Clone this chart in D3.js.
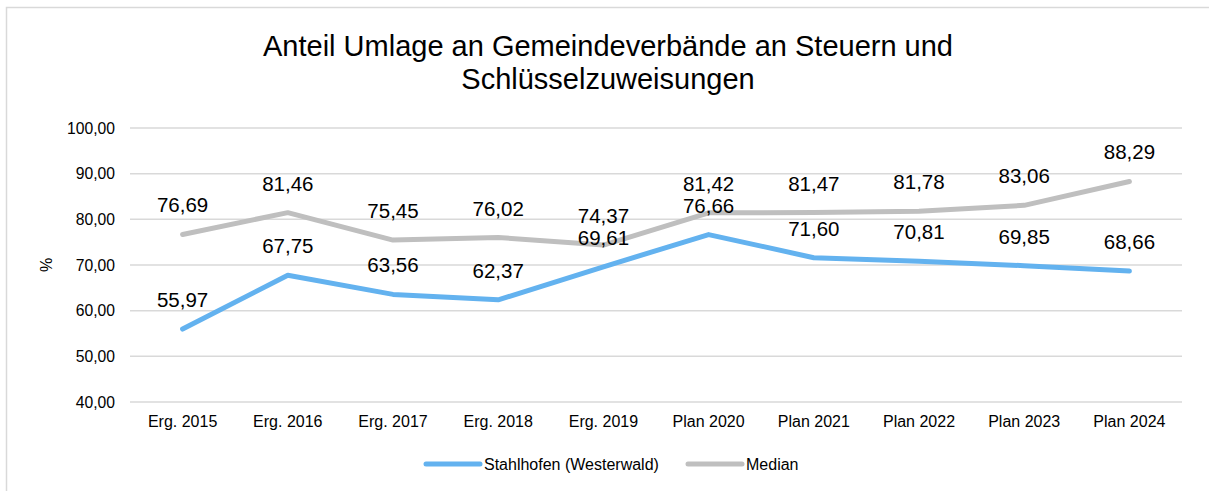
<!DOCTYPE html>
<html>
<head>
<meta charset="utf-8">
<script src="https://cdn.jsdelivr.net/npm/d3@7"></script>
<style>
  body { margin: 0; background: #fff; }
  svg { font-family: "Liberation Sans", Arial, sans-serif; }
</style>
</head>
<body>
<svg id="chart" width="1209" height="491"></svg>
<script>
  var categories = ['Erg. 2015', 'Erg. 2016', 'Erg. 2017', 'Erg. 2018', 'Erg. 2019',
                    'Plan 2020', 'Plan 2021', 'Plan 2022', 'Plan 2023', 'Plan 2024'];
  var stahlhofen = [55.97, 67.75, 63.56, 62.37, 69.61, 76.66, 71.60, 70.81, 69.85, 68.66];
  var median = [76.69, 81.46, 75.45, 76.02, 74.37, 81.42, 81.47, 81.78, 83.06, 88.29];
  var yTicks = [40, 50, 60, 70, 80, 90, 100];

  var series = [
    {name: 'Stahlhofen (Westerwald)', values: stahlhofen, color: '#63b2ef'},
    {name: 'Median', values: median, color: '#bfbfbf'}
  ];

  var fmt = (v) => d3.format('.2f')(v).replace('.', ',');

  var svg = d3.select('#chart');

  // outer frame
  svg.append('rect')
    .attr('x', 6.5).attr('y', 7.5)
    .attr('width', 1210).attr('height', 490)
    .attr('fill', 'none').attr('stroke', '#d9d9d9').attr('stroke-width', 1.5);

  // title
  var title = svg.append('text')
    .attr('text-anchor', 'middle')
    .attr('font-size', 29)
    .attr('fill', '#000');
  title.append('tspan').attr('x', 608).attr('y', 56)
    .text('Anteil Umlage an Gemeindeverbände an Steuern und');
  title.append('tspan').attr('x', 608).attr('y', 89)
    .text('Schlüsselzuweisungen');

  var x = d3.scaleBand().domain(categories).range([130, 1182]);
  var y = d3.scaleLinear().domain([40, 100]).range([402, 128]);

  // grid
  svg.append('g').selectAll('line').data(yTicks)
    .enter().append('line')
      .attr('x1', 130).attr('x2', 1182)
      .attr('y1', (d) => y(d)).attr('y2', (d) => y(d))
      .attr('stroke', '#d9d9d9').attr('stroke-width', 1.5);

  // y labels
  svg.append('g').selectAll('text').data(yTicks)
    .enter().append('text')
      .attr('x', 115).attr('y', (d) => y(d) + 5.5)
      .attr('text-anchor', 'end')
      .attr('font-size', 15.7)
      .attr('fill', '#000')
      .text((d) => fmt(d));

  // x labels
  svg.append('g').selectAll('text').data(categories)
    .enter().append('text')
      .attr('x', (d) => x(d) + x.bandwidth() / 2)
      .attr('y', 427)
      .attr('text-anchor', 'middle')
      .attr('font-size', 16)
      .attr('fill', '#000')
      .text((d) => d);

  // y axis title
  svg.append('text')
    .attr('transform', 'translate(52,265) rotate(-90)')
    .attr('text-anchor', 'middle')
    .attr('font-size', 16)
    .text('%');

  var line = d3.line()
    .x((d, i) => x(categories[i]) + x.bandwidth() / 2)
    .y((d) => y(d));

  // draw median first so blue sits on top
  series.slice().reverse().forEach((s) => {
    svg.append('path')
      .datum(s.values)
      .attr('d', line)
      .attr('fill', 'none')
      .attr('stroke', s.color)
      .attr('stroke-width', 5)
      .attr('stroke-linecap', 'round')
      .attr('stroke-linejoin', 'round');
  });

  series.forEach((s) => {
    svg.append('g').selectAll('text').data(s.values)
      .enter().append('text')
        .attr('x', (d, i) => x(categories[i]) + x.bandwidth() / 2)
        .attr('y', (d) => y(d) - 22)
        .attr('text-anchor', 'middle')
        .attr('font-size', 20.5)
        .attr('fill', '#000')
        .text((d) => fmt(d));
  });

  // legend
  var legendItems = [
    {s: series[0], x0: 426},
    {s: series[1], x0: 688}
  ];
  var lg = svg.append('g');
  legendItems.forEach((it) => {
    lg.append('line')
      .attr('x1', it.x0).attr('x2', it.x0 + 54)
      .attr('y1', 464).attr('y2', 464)
      .attr('stroke', it.s.color).attr('stroke-width', 5)
      .attr('stroke-linecap', 'round');
    lg.append('text')
      .attr('x', it.x0 + 58).attr('y', 470)
      .attr('font-size', 16)
      .attr('fill', '#000')
      .text(it.s.name);
  });
</script>
</body>
</html>
